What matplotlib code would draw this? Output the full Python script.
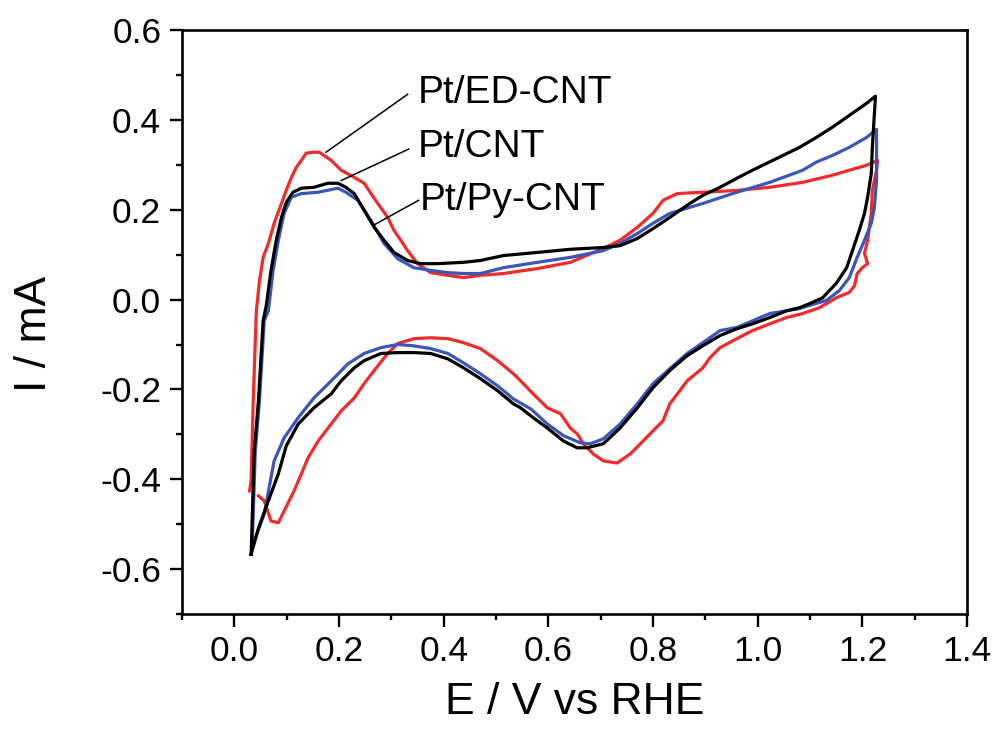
import matplotlib
matplotlib.use("Agg")
import matplotlib.pyplot as plt
from matplotlib.ticker import MultipleLocator, FormatStrFormatter

plt.rcParams['font.family'] = ['Liberation Sans', 'DejaVu Sans']

# Pt/CNT (black)
cnt_x = [0.032, 0.038, 0.046, 0.055, 0.061, 0.070, 0.080, 0.090, 0.099, 0.112, 0.128, 0.152,
         0.179, 0.198, 0.213, 0.229, 0.248, 0.267, 0.286, 0.305, 0.331, 0.356, 0.389, 0.438,
         0.470, 0.514, 0.579, 0.642, 0.705, 0.737, 0.770, 0.800, 0.832, 0.865, 0.895, 0.928,
         0.960, 0.990, 1.080, 1.112, 1.143, 1.175, 1.208, 1.225,
         1.223, 1.219, 1.217, 1.210, 1.204, 1.194, 1.181, 1.170, 1.150, 1.124, 1.099, 1.080,
         1.055, 1.023, 0.990, 0.960, 0.928, 0.895, 0.865, 0.832, 0.800, 0.770, 0.737, 0.705,
         0.674, 0.655, 0.629, 0.598, 0.571, 0.547, 0.533, 0.503, 0.470, 0.438, 0.408, 0.375,
         0.343, 0.312, 0.280, 0.248, 0.229, 0.204, 0.185, 0.152, 0.122, 0.099, 0.084, 0.065,
         0.046, 0.032]
cnt_y = [-0.567, -0.337, -0.225, -0.047, -0.013, 0.065, 0.132, 0.183, 0.216, 0.239, 0.248, 0.250,
         0.259, 0.259, 0.250, 0.236, 0.199, 0.161, 0.132, 0.105, 0.087, 0.080, 0.080, 0.083,
         0.087, 0.098, 0.105, 0.112, 0.116, 0.120, 0.136, 0.158, 0.183, 0.210, 0.232, 0.250,
         0.270, 0.288, 0.339, 0.361, 0.384, 0.410, 0.437, 0.453,
         0.415, 0.339, 0.281, 0.228, 0.192, 0.154, 0.109, 0.071, 0.036, 0.004, -0.009, -0.018,
         -0.025, -0.040, -0.054, -0.065, -0.080, -0.103, -0.125, -0.158, -0.196, -0.241, -0.286, -0.321,
         -0.330, -0.330, -0.315, -0.286, -0.263, -0.241, -0.232, -0.203, -0.176, -0.152, -0.132, -0.120,
         -0.118, -0.118, -0.120, -0.136, -0.152, -0.181, -0.210, -0.241, -0.277, -0.326, -0.388, -0.448,
         -0.509, -0.567]

# Pt/Py-CNT (blue)
py_x = [0.034, 0.040, 0.048, 0.057, 0.065, 0.074, 0.084, 0.095, 0.109, 0.128, 0.160, 0.198,
        0.213, 0.236, 0.261, 0.286, 0.312, 0.343, 0.375, 0.408, 0.438, 0.470, 0.514, 0.579,
        0.642, 0.705, 0.737, 0.770, 0.800, 0.832, 0.895, 0.960, 1.023, 1.086, 1.112, 1.143,
        1.175, 1.208, 1.227,
        1.227, 1.227, 1.223, 1.217, 1.204, 1.190, 1.175, 1.156, 1.131, 1.099, 1.080, 1.023,
        0.960, 0.928, 0.895, 0.865, 0.832, 0.800, 0.770, 0.737, 0.705, 0.680, 0.661, 0.629,
        0.598, 0.566, 0.533, 0.503, 0.470, 0.438, 0.408, 0.375, 0.343, 0.312, 0.280, 0.248,
        0.217, 0.185, 0.152, 0.122, 0.095, 0.076, 0.057, 0.038]
py_y = [-0.549, -0.337, -0.225, -0.047, -0.025, 0.065, 0.132, 0.192, 0.228, 0.236, 0.239, 0.248,
        0.239, 0.221, 0.176, 0.125, 0.091, 0.071, 0.065, 0.060, 0.058, 0.058, 0.071, 0.083,
        0.094, 0.109, 0.125, 0.147, 0.170, 0.192, 0.214, 0.239, 0.261, 0.288, 0.306, 0.321,
        0.339, 0.361, 0.379,
        0.339, 0.265, 0.205, 0.170, 0.132, 0.094, 0.049, 0.020, -0.002, -0.013, -0.020, -0.031,
        -0.062, -0.069, -0.096, -0.120, -0.154, -0.187, -0.232, -0.277, -0.310, -0.321, -0.319, -0.303,
        -0.277, -0.243, -0.221, -0.192, -0.165, -0.141, -0.120, -0.109, -0.103, -0.100, -0.107, -0.120,
        -0.143, -0.181, -0.219, -0.263, -0.308, -0.359, -0.477, -0.538]

# Pt/ED-CNT (red)
ed_x = [0.029, 0.032, 0.036, 0.042, 0.048, 0.055, 0.065, 0.076, 0.090, 0.099, 0.109, 0.118,
        0.128, 0.137, 0.150, 0.162, 0.171, 0.185, 0.204, 0.229, 0.248, 0.261, 0.274, 0.293,
        0.305, 0.318, 0.331, 0.350, 0.375, 0.408, 0.438, 0.470, 0.514, 0.579, 0.642, 0.705,
        0.737, 0.770, 0.800, 0.819, 0.846, 0.895, 0.960, 1.023, 1.086, 1.143, 1.175, 1.208,
        1.229,
        1.227, 1.219, 1.217, 1.210, 1.204, 1.210, 1.200, 1.190, 1.185, 1.175, 1.150, 1.118,
        1.086, 1.055, 1.023, 0.990, 0.960, 0.928, 0.909, 0.895, 0.865, 0.851, 0.832, 0.819,
        0.800, 0.781, 0.756, 0.731, 0.705, 0.686, 0.667, 0.655, 0.642, 0.623, 0.598, 0.571,
        0.547, 0.533, 0.503, 0.470, 0.438, 0.408, 0.375, 0.343, 0.312, 0.293, 0.267, 0.248,
        0.229, 0.204, 0.179, 0.160, 0.141, 0.128, 0.114, 0.095, 0.084, 0.070, 0.057, 0.046]
ed_y = [-0.426, -0.404, -0.225, -0.025, 0.042, 0.094, 0.125, 0.170, 0.214, 0.243, 0.272, 0.294,
        0.310, 0.326, 0.328, 0.328, 0.321, 0.310, 0.288, 0.272, 0.259, 0.236, 0.214, 0.183,
        0.154, 0.132, 0.109, 0.080, 0.060, 0.054, 0.049, 0.054, 0.058, 0.069, 0.083, 0.114,
        0.132, 0.161, 0.192, 0.221, 0.236, 0.239, 0.243, 0.250, 0.261, 0.277, 0.288, 0.299,
        0.310,
        0.288, 0.243, 0.192, 0.132, 0.103, 0.080, 0.071, 0.058, 0.031, 0.016, 0.004, -0.018,
        -0.031, -0.040, -0.054, -0.069, -0.087, -0.107, -0.129, -0.152, -0.181, -0.203, -0.232, -0.270,
        -0.292, -0.315, -0.344, -0.364, -0.359, -0.344, -0.321, -0.299, -0.286, -0.254, -0.241, -0.210,
        -0.181, -0.165, -0.136, -0.109, -0.096, -0.087, -0.085, -0.087, -0.098, -0.120, -0.158, -0.187,
        -0.219, -0.248, -0.286, -0.315, -0.352, -0.388, -0.426, -0.471, -0.497, -0.493, -0.448, -0.437]

labels = ['Pt/ED-CNT', 'Pt/CNT', 'Pt/Py-CNT']
label_xy = [(0.350, 0.460), (0.350, 0.339), (0.354, 0.221)]
pointer_from = [(0.331, 0.457), (0.333, 0.335), (0.352, 0.221)]
pointer_to = [(0.175, 0.328), (0.204, 0.265), (0.265, 0.165)]

fig = plt.figure(figsize=(9.98, 7.34), dpi=100)
ax = fig.add_axes([0.1824, 0.1635, 0.7866, 0.7955])

ax.plot(ed_x, ed_y, color='#f42a2a', lw=2.3)
ax.plot(py_x, py_y, color='#3a56b8', lw=2.3)
ax.plot(cnt_x, cnt_y, color='black', lw=2.3)

for lab, txy, p0, p1 in zip(labels, label_xy, pointer_from, pointer_to):
    ax.plot([p0[0], p1[0]], [p0[1], p1[1]], color='black', lw=1.1)
    ax.text(txy[0], txy[1], lab, fontsize=28, va='center', ha='left')

ax.set_xlim(-0.1, 1.4)
ax.set_ylim(-0.7, 0.6)
ax.xaxis.set_major_locator(MultipleLocator(0.2))
ax.xaxis.set_minor_locator(MultipleLocator(0.1))
ax.yaxis.set_major_locator(MultipleLocator(0.2))
ax.yaxis.set_minor_locator(MultipleLocator(0.1))
ax.xaxis.set_major_formatter(FormatStrFormatter('%.1f'))
ax.yaxis.set_major_formatter(FormatStrFormatter('%.1f'))
ax.tick_params(which='both', direction='out', top=False, right=False, width=1.7,
               labelsize=25.5)
ax.tick_params(which='major', length=9, pad=6)
ax.tick_params(which='minor', length=4.5)
for s in ax.spines.values():
    s.set_linewidth(1.9)

ax.set_xlabel('E / V vs RHE', fontsize=32, labelpad=10)
ax.set_ylabel('I / mA', fontsize=32)
ax.yaxis.set_label_coords(-0.162, 0.48)

fig.savefig('out.png', dpi=100)
